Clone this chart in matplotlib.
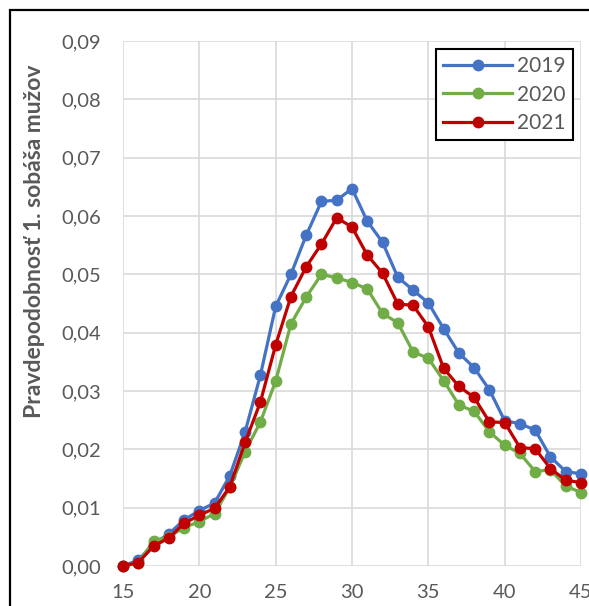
import matplotlib
matplotlib.use("Agg")
import matplotlib.pyplot as plt
from matplotlib.patches import Rectangle
from matplotlib.ticker import FuncFormatter

ages = list(range(15, 46))
y2019 = [0.0, 0.0010, 0.0038, 0.0055, 0.0079, 0.0095, 0.0108, 0.0155, 0.0230, 0.0327,
         0.0445, 0.0500, 0.0567, 0.0625, 0.0627, 0.0647, 0.0591, 0.0555, 0.0495, 0.0473,
         0.0451, 0.0407, 0.0365, 0.0340, 0.0302, 0.0249, 0.0244, 0.0233, 0.0187, 0.0162, 0.0158]
y2020 = [0.0, 0.0005, 0.0043, 0.0050, 0.0066, 0.0076, 0.0090, 0.0135, 0.0196, 0.0247,
         0.0317, 0.0415, 0.0461, 0.0500, 0.0494, 0.0486, 0.0475, 0.0433, 0.0417, 0.0367,
         0.0356, 0.0318, 0.0276, 0.0265, 0.0230, 0.0207, 0.0193, 0.0162, 0.0165, 0.0137, 0.0126]
y2021 = [0.0, 0.0006, 0.0034, 0.0048, 0.0073, 0.0087, 0.0099, 0.0136, 0.0212, 0.0281,
         0.0379, 0.0462, 0.0513, 0.0552, 0.0597, 0.0581, 0.0533, 0.0502, 0.0449, 0.0447,
         0.0410, 0.0339, 0.0308, 0.0289, 0.0247, 0.0246, 0.0203, 0.0201, 0.0167, 0.0147, 0.0143]
series_labels = ["2019", "2020", "2021"]
series_colors = ["#4472C4", "#70AD47", "#C00000"]
x_ticks = [15, 20, 25, 30, 35, 40, 45]
y_ticks = [0.0, 0.01, 0.02, 0.03, 0.04, 0.05, 0.06, 0.07, 0.08, 0.09]
ylabel = "Pravdepodobnosť 1. sobáša mužov"

plt.rcParams['font.family'] = ['Lato', 'DejaVu Sans']

W, H = 589, 606
fig = plt.figure(figsize=(W / 100, H / 100), dpi=100)
fig.patch.set_facecolor("white")
ax = fig.add_axes([123 / W, 1 - 566 / H, (581 - 123) / W, (566 - 41) / H])

for i, (ys, lab, col) in enumerate(zip([y2019, y2020, y2021], series_labels, series_colors)):
    ax.plot(ages, ys, color=col, linewidth=2.3, marker="o", markersize=7.5,
            label=lab, clip_on=False, zorder=3 + i)

ax.set_xlim(15, 45)
ax.set_ylim(0, 0.09)
ax.set_xticks(x_ticks)
ax.set_yticks(y_ticks)
ax.yaxis.set_major_formatter(FuncFormatter(lambda v, p: f"{v:.2f}".replace(".", ",")))
ax.grid(True, color="#d9d9d9", linewidth=1.2)
ax.set_axisbelow(True)
for s in ax.spines.values():
    s.set_visible(False)
ax.tick_params(axis="both", length=0, labelsize=14.5, labelcolor="#595959")
ax.tick_params(axis="y", pad=16)
ax.tick_params(axis="x", pad=13)

fig.text(35 / W, 1 - 241 / H, ylabel, rotation=90, ha="center", va="center",
         fontsize=16.5, fontweight="bold", color="#595959")

leg = ax.legend(loc="upper right", bbox_to_anchor=((573 - 123) / 458, (566 - 49) / 525),
                borderaxespad=0, frameon=True, fancybox=False, fontsize=15,
                handlelength=3.3, handletextpad=0.25, labelspacing=0.4,
                borderpad=0.35)
leg.get_frame().set_edgecolor("black")
leg.get_frame().set_linewidth(1.5)
leg.get_frame().set_facecolor("white")
leg.get_frame().set_alpha(1)
for t in leg.get_texts():
    t.set_color("#595959")

fig.add_artist(Rectangle((10 / W, -0.1), 1.2, (H - 10) / H + 0.1, fill=False,
                         edgecolor="black", linewidth=1.6, transform=fig.transFigure,
                         clip_on=False))

fig.savefig("out.png", dpi=100)
